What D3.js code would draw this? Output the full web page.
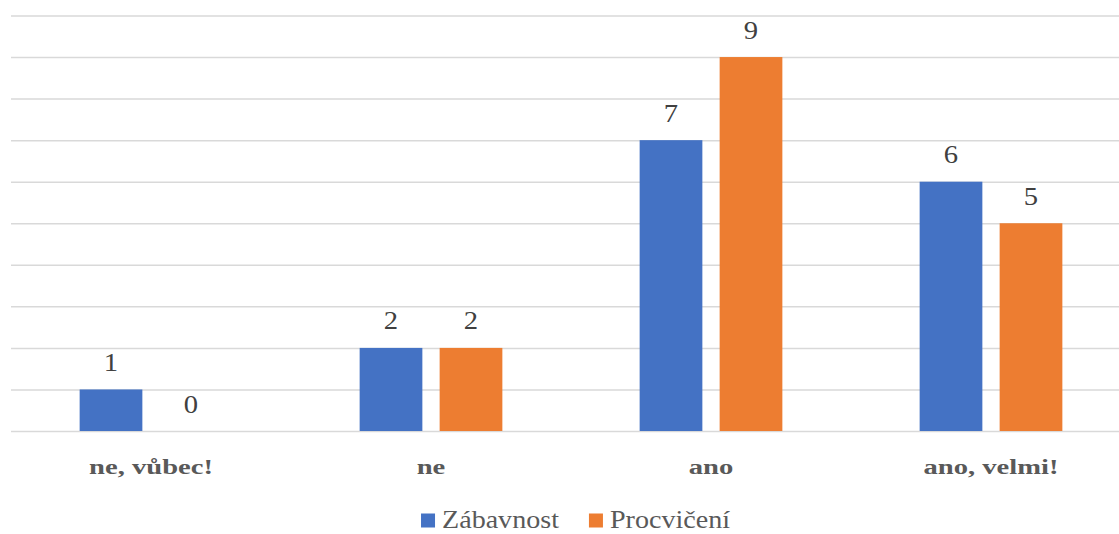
<!DOCTYPE html>
<html>
<head>
<meta charset="utf-8">
<script src="https://cdn.jsdelivr.net/npm/d3@7/dist/d3.min.js"></script>
<style>
  html, body { margin: 0; padding: 0; background: #ffffff; }
  svg { display: block; }
</style>
</head>
<body>
<script>
// Survey answers and counts per series
const categories = ["ne, vůbec!", "ne", "ano", "ano, velmi!"];
const seriesNames = ["Zábavnost", "Procvičení"];
const zabavnost = [1, 2, 7, 6];
const procviceni = [0, 2, 9, 5];
const yTicks = [0, 1, 2, 3, 4, 5, 6, 7, 8, 9, 10];

const W = 1119, H = 534;
const colors = { "Zábavnost": "#4472c4", "Procvičení": "#ed7d31" };
const FONT = "Liberation Serif";

const seriesValues = { "Zábavnost": zabavnost, "Procvičení": procviceni };

const svg = d3.select("body").append("svg")
  .attr("width", W).attr("height", H)
  .style("font-family", FONT);

const x = d3.scaleBand().domain(categories).range([11, 1131]).paddingInner(0).paddingOuter(0);
const xs = d3.scaleBand().domain(seriesNames).range([0, x.bandwidth()])
  .paddingInner(0.216).paddingOuter(0.858);
const y = d3.scaleLinear().domain([0, 10]).range([431, 15.5]);

// Horizontal gridlines
const yAxis = d3.axisLeft(y).tickValues(yTicks).tickSize(-(1131 - 11)).tickFormat("");
const gy = svg.append("g").attr("transform", "translate(11,0)").call(yAxis);
gy.select(".domain").remove();
gy.selectAll(".tick line").attr("stroke", "#d9d9d9").attr("stroke-width", 1.5);

// Bars
const groups = svg.append("g").selectAll("g")
  .data(categories).join("g")
  .attr("transform", d => `translate(${x(d)},0)`);

const rows = (c, i) => seriesNames.map(s => ({ cat: c, series: s, value: seriesValues[s][i] }));

groups.selectAll("rect")
  .data((c, i) => rows(c, i))
  .join("rect")
  .attr("x", d => xs(d.series))
  .attr("width", xs.bandwidth())
  .attr("y", d => y(d.value))
  .attr("height", d => y(0) - y(d.value))
  .attr("fill", d => colors[d.series]);

// Value labels above bars (slightly widened serif)
groups.selectAll("text.val")
  .data((c, i) => rows(c, i))
  .join("text")
  .attr("class", "val")
  .attr("transform", d => `translate(${xs(d.series) + xs.bandwidth() / 2},${y(d.value) - 18.5}) scale(1.1,1)`)
  .attr("text-anchor", "middle")
  .style("font-family", FONT)
  .attr("font-size", 26)
  .attr("fill", "#404040")
  .text(d => d.value);

// Category axis labels (wide bold serif)
const xAxis = d3.axisBottom(x).tickSize(0).tickPadding(0);
const gx = svg.append("g").attr("transform", "translate(0,474)").call(xAxis);
gx.select(".domain").remove();
gx.attr("font-family", null).attr("font-size", null);
gx.selectAll(".tick text")
  .attr("y", 0).attr("dy", 0)
  .attr("transform", "scale(1.3,1)")
  .style("font-family", FONT)
  .style("font-weight", "bold")
  .attr("font-size", 22)
  .attr("fill", "#595959");

// Legend
const legend = svg.append("g");
const items = legend.selectAll("g").data(seriesNames).join("g");
items.append("rect")
  .attr("width", 14).attr("height", 14)
  .attr("y", -14.5)
  .attr("fill", d => colors[d]);
items.append("text")
  .attr("transform", "translate(21,0) scale(1.08,1)")
  .style("font-family", FONT)
  .attr("font-size", 26)
  .attr("fill", "#595959")
  .text(d => d);

let offset = 0;
const gap = 30;
items.each(function () {
  const t = d3.select(this).select("text").node();
  const w = 21 + t.getComputedTextLength() * 1.08;
  d3.select(this).attr("transform", `translate(${offset},528)`);
  offset += w + gap;
});
const total = offset - gap;
legend.attr("transform", `translate(${575.5 - total / 2},0)`);
</script>
</body>
</html>
